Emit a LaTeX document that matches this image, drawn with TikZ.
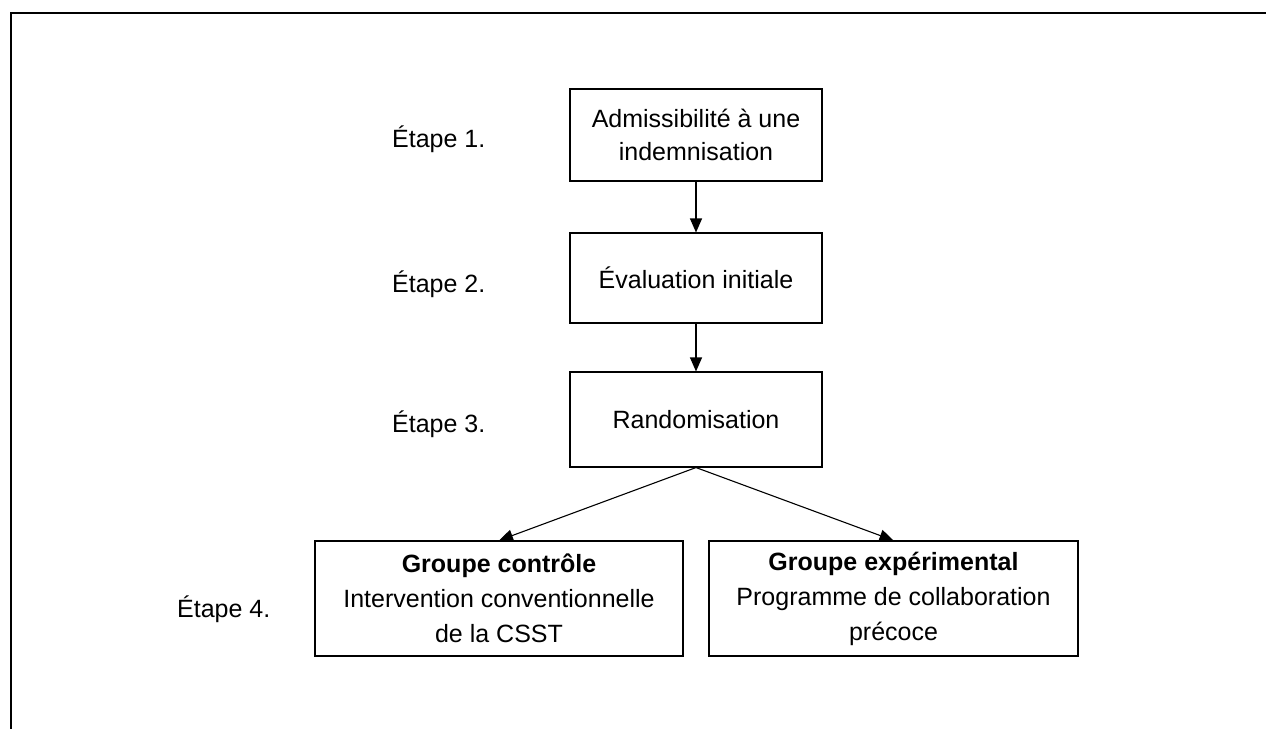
\documentclass[tikz,border=0pt]{standalone}
\usepackage{fontspec}
\setmainfont{Liberation Sans}
\usetikzlibrary{arrows.meta}
\begin{document}
\begin{tikzpicture}[x=1pt,y=-1pt,
  stepbox/.style={draw=black, line width=1.1pt, inner sep=0pt, align=center,
    font=\fontsize{25}{32.5}\selectfont},
  groupbox/.style={stepbox, minimum width=368, minimum height=115,
    font=\fontsize{25}{35}\selectfont},
  steplabel/.style={anchor=base west, inner sep=0pt, font=\fontsize{25}{30}\selectfont},
  flow/.style={line width=1.1pt, -{Triangle[length=14pt,width=12pt]}},
  frame/.style={line width=2pt}]
\useasboundingbox (0,0) rectangle (1266,729);
\coordinate (ftop) at (1266,13);
\coordinate (fcorner) at (11,13);
\coordinate (fbot) at (11,729);
\draw[frame] (ftop) -- (fcorner) -- (fbot);

\node[stepbox, minimum width=252, minimum height=92] (b1) at (696,135) {Admissibilité à une\\indemnisation};
\node[stepbox, minimum width=252, minimum height=90] (b2) at (696,278) {Évaluation initiale};
\node[stepbox, minimum width=252, minimum height=95] (b3) at (696,419.5) {Randomisation};
\node[groupbox] (g1) at (499,598.5) {\textbf{Groupe contrôle}\\Intervention conventionnelle\\de la CSST};
\node[groupbox, minimum width=369] (g2) at (893.5,598.5) {\textbf{Groupe expérimental}\\Programme de collaboration\\précoce};

\node[steplabel] (e1) at (392,147) {Étape 1.};
\node[steplabel] (e2) at (392,292) {Étape 2.};
\node[steplabel] (e3) at (392,432) {Étape 3.};
\node[steplabel] (e4) at (177,617) {Étape 4.};

\draw[flow] (b1.south) -- (b2.north);
\draw[flow] (b2.south) -- (b3.north);
\draw[flow] (b3.south) -- (g1.north);
\draw[flow] (b3.south) -- (g2.north);
\end{tikzpicture}
\end{document}
